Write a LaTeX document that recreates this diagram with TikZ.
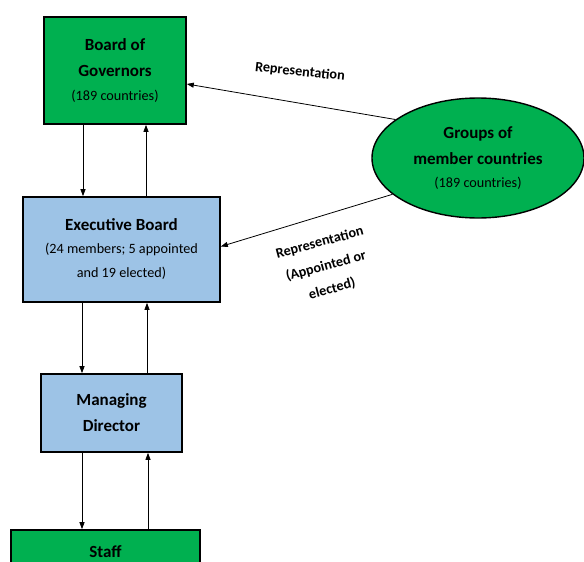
\documentclass[tikz,border=0pt]{standalone}
\usepackage{fontspec}
\setmainfont{Carlito}
\usetikzlibrary{shapes.geometric, arrows.meta}

\definecolor{govgreen}{HTML}{00B050}
\definecolor{boardblue}{HTML}{9DC3E6}
\newcommand\ttl{\fontsize{17}{26}\selectfont\bfseries}
\newcommand\sub{\fontsize{14.2}{23}\selectfont\mdseries}

\begin{document}
\begin{tikzpicture}[x=1pt, y=-1pt, >={Triangle[length=7pt, width=5pt]},
    box/.style={draw, line width=1.6pt, align=center, inner sep=0pt, font=\ttl},
    link/.style={->, line width=0.8pt},
    lbl/.style={align=center, font=\fontsize{14.2}{22}\selectfont\bfseries}]
    \path[use as bounding box, clip] (0,0) rectangle (584,562);
    % boxes down the left
    \node[box, fill=govgreen, minimum width=142, minimum height=107] (bog) at (115,70.5) {Board of\\Governors\\[-2pt]\sub (189 countries)};
    \node[box, fill=boardblue, minimum width=197, minimum height=105] (eb) at (121.5,249.5) {Executive Board\\[-3pt]\sub (24 members; 5 appointed\\[-2pt]\sub and 19 elected)};
    \node[box, fill=boardblue, minimum width=141, minimum height=78] (md) at (111.5,413) {Managing\\Director};
    \node[box, fill=govgreen, minimum width=189, minimum height=44] (staff) at (105.5,552) {Staff};
    \node[box, ellipse, fill=govgreen, line width=1.4pt, minimum width=212, minimum height=120] (grp) at (478,158) {Groups of\\member countries\\[-3pt]\sub (189 countries)};
    % up and down links
    \draw[link] ([xshift=-32pt]bog.south) -- ([xshift=-38.5pt]eb.north);
    \draw[link] ([xshift=24.5pt]eb.north) -- ([xshift=31pt]bog.south);
    \draw[link] ([xshift=-39.5pt]eb.south) -- ([xshift=-29.5pt]md.north);
    \draw[link] ([xshift=35.5pt]md.north) -- ([xshift=25.5pt]eb.south);
    \draw[link] ([xshift=-29.5pt]md.south) -- ([xshift=-23.5pt]staff.north);
    \draw[link] ([xshift=42.5pt]staff.north) -- ([xshift=36.5pt]md.south);
    % representation
    \draw[link] (grp.155) -- ([yshift=-13.5pt]bog.east);
    \draw[link] (grp.203) -- ([yshift=3pt]eb.east);
    \node[lbl, rotate=-6] (rep1) at (300,72) {Representation};
    \node[lbl, rotate=15] (rep2) at (326,266) {Representation\\[2pt](Appointed or\\[2pt]elected)};
\end{tikzpicture}
\end{document}
